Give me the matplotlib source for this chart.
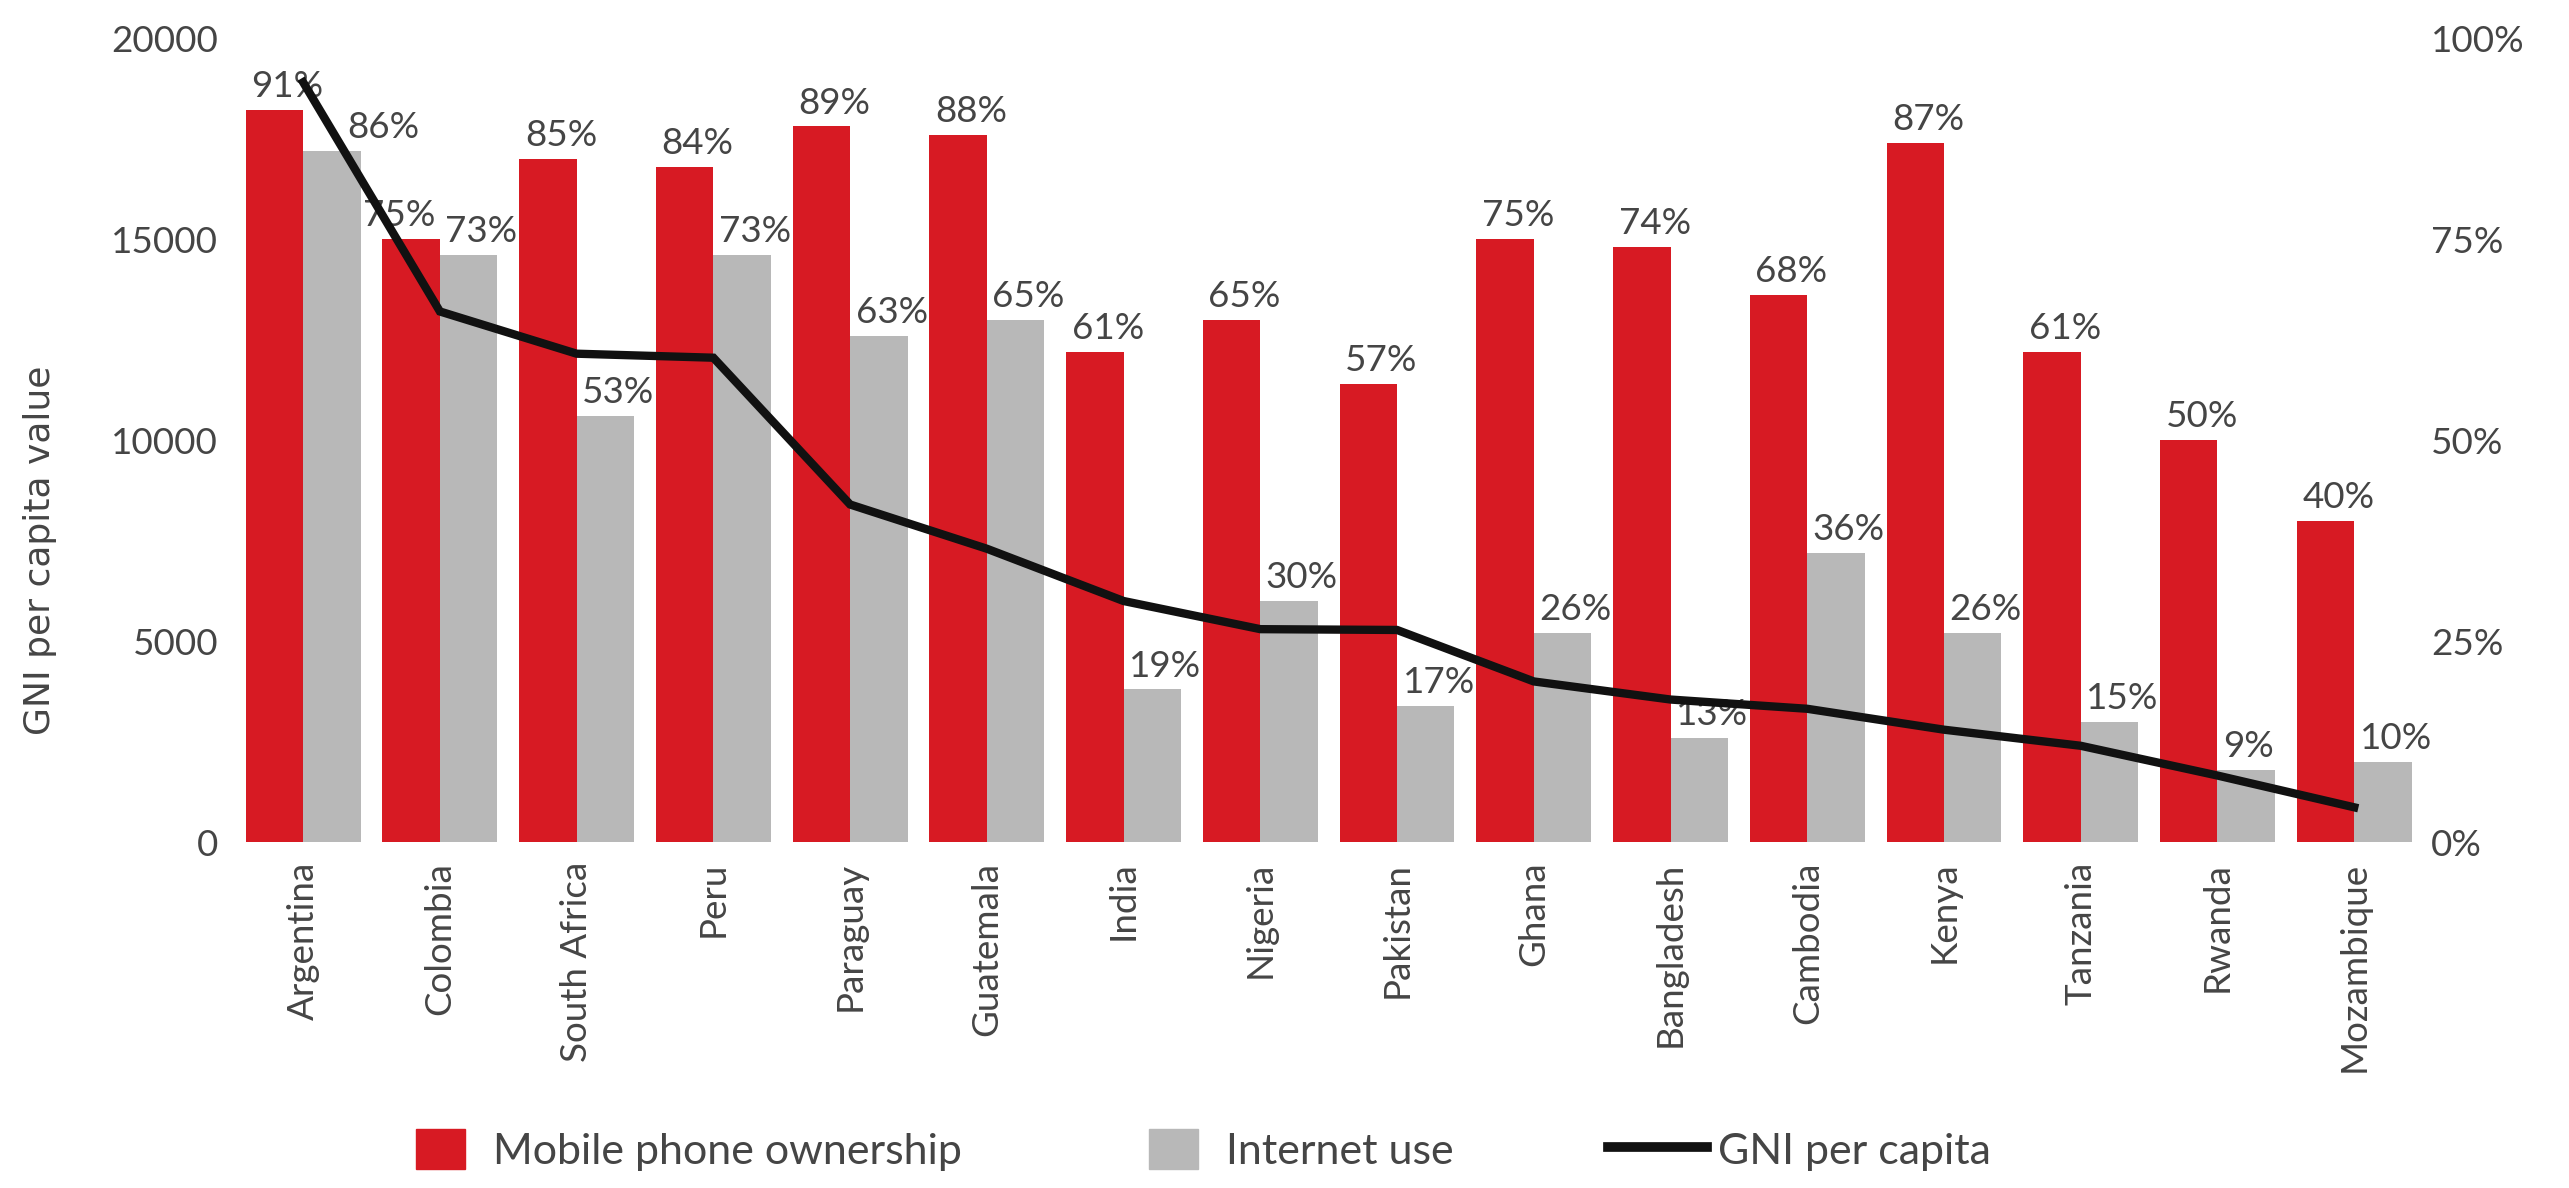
#!/usr/bin/env python3

import matplotlib
matplotlib.use('Agg')
import matplotlib.pyplot as plt
import matplotlib.patches as mpatches
from matplotlib.legend_handler import HandlerPatch
from matplotlib.lines import Line2D
import numpy as np

countries = ['Argentina', 'Colombia', 'South Africa', 'Peru', 'Paraguay', 'Guatemala',
             'India', 'Nigeria', 'Pakistan', 'Ghana', 'Bangladesh', 'Cambodia',
             'Kenya', 'Tanzania', 'Rwanda', 'Mozambique']
mobile_pct = [91, 75, 85, 84, 89, 88, 61, 65, 57, 75, 74, 68, 87, 61, 50, 40]
internet_pct = [86, 73, 53, 73, 63, 65, 19, 30, 17, 26, 13, 36, 26, 15, 9, 10]
gni = [18900, 13200, 12150, 12050, 8400, 7300, 6000, 5300, 5280, 4000,
       3550, 3320, 2800, 2400, 1660, 870]

RED = '#d71a23'
GREY = '#b8b8b8'
TEXT = '#454545'
FONT = 'Lato'
FS = 26.5

# horizontal nudges (points) for labels that would sit on the GNI line
label_nudge = {('internet', 0): 28, ('mobile', 1): -18}


def narrow_rect(legend, orig_handle, xdescent, ydescent, width, height, fontsize):
    # swatch narrower than the handle box, pushed towards its right end
    w = width * 0.5
    h = height * 1.02
    return mpatches.Rectangle((width * 0.33 - xdescent, -ydescent - (h - height) / 2), w, h)


def main():
    plt.rcParams['font.family'] = [FONT, 'DejaVu Sans']

    fig = plt.figure(figsize=(25.69, 11.88), dpi=100)
    ax = fig.add_axes([0.0914, 0.291, 0.8516, 0.677])
    ax2 = ax.twinx()

    x = np.arange(len(countries))
    w = 0.42
    b1 = ax2.bar(x - w / 2, mobile_pct, w, color=RED)
    b2 = ax2.bar(x + w / 2, internet_pct, w, color=GREY)

    for name, bars, vals in (('mobile', b1, mobile_pct), ('internet', b2, internet_pct)):
        for i, (rect, v) in enumerate(zip(bars, vals)):
            dx = 4 + label_nudge.get((name, i), 0)
            ax2.annotate(f'{v}%', (rect.get_x(), v),
                         xytext=(dx, 5), textcoords='offset points',
                         ha='left', va='bottom', fontsize=FS, color=TEXT)

    ax.plot(x, gni, color='#111111', lw=6, solid_joinstyle='miter', zorder=5)

    # line lives on the left axes, keep it above the bars
    ax.set_zorder(ax2.get_zorder() + 1)
    ax.patch.set_visible(False)

    ax.set_xlim(-0.5, len(countries) - 0.5)
    ax.set_ylim(0, 20000)
    ax.set_yticks([0, 5000, 10000, 15000, 20000])
    ax2.set_ylim(0, 100)
    ax2.set_yticks([0, 25, 50, 75, 100])
    ax2.set_yticklabels([f'{t}%' for t in [0, 25, 50, 75, 100]])

    ax.set_xticks(x)
    ax.set_xticklabels(countries, rotation=90)

    for a in (ax, ax2):
        for s in a.spines.values():
            s.set_visible(False)
        a.tick_params(length=0, labelsize=FS, labelcolor=TEXT)
    ax.tick_params(axis='x', pad=14)
    ax.tick_params(axis='y', pad=12)
    ax2.tick_params(axis='y', pad=6)

    fig.text(0.0155, 0.537, 'GNI per capita value', family='DejaVu Sans', fontsize=26,
             color=TEXT, rotation=90, ha='center', va='center')

    handles = [mpatches.Patch(color=RED, label='Mobile phone ownership'),
               mpatches.Patch(color=GREY, label='Internet use'),
               Line2D([], [], color='#111111', lw=7, label='GNI per capita')]
    fig.legend(handles=handles, loc='lower center', bbox_to_anchor=(0.462, -0.018),
               ncol=3, frameon=False, fontsize=31, labelcolor=TEXT,
               handlelength=2.28, handleheight=1.0, handletextpad=0.26,
               columnspacing=3.6,
               handler_map={mpatches.Patch: HandlerPatch(patch_func=narrow_rect)})

    fig.savefig('out.png', dpi=100)


if __name__ == '__main__':
    main()
